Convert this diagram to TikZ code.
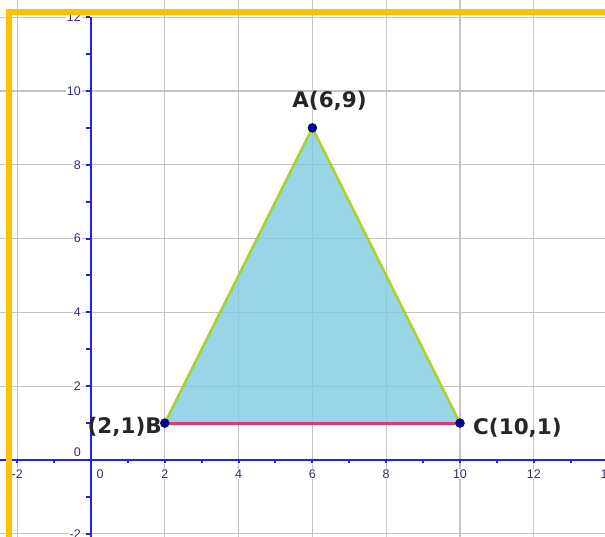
\documentclass[tikz,border=0pt]{standalone}
\usepackage{fontspec}
\setmainfont{Liberation Sans}
\newfontfamily\lblfont{DejaVu Sans}
\definecolor{gridgray}{RGB}{196,196,196}
\definecolor{axisblue}{RGB}{35,35,225}
\definecolor{ticktext}{RGB}{45,45,120}
\definecolor{frameorange}{RGB}{255,192,0}
\definecolor{trifill}{RGB}{125,202,225}
\definecolor{sidegreen}{RGB}{172,208,40}
\definecolor{sidepink}{RGB}{218,60,120}
\definecolor{ptblue}{RGB}{0,0,150}
\tikzset{
  gridline/.style={draw=gridgray, line width=1.2pt},
  axisline/.style={draw=axisblue, line width=2.5pt},
  tickmark/.style={draw=axisblue, line width=2pt},
  ticklbl/.style={font=\fontsize{12.5}{14}\selectfont, text=ticktext, fill=white, inner sep=1pt},
  ptlbl/.style={font=\lblfont\bfseries\fontsize{21.5}{24}\selectfont, inner sep=0pt, text=black!85},
  ptdot/.style={circle, fill=ptblue, draw=ptblue!70!black, line width=0.4pt, inner sep=0pt, minimum size=9pt},
  triside/.style={draw=sidegreen, line width=2.4pt},
  baseside/.style={draw=sidepink, line width=3pt},
  trifillstyle/.style={fill=trifill, fill opacity=0.8},
  frameline/.style={draw=frameorange, line width=6pt}
}
\begin{document}
\begin{tikzpicture}[x=36.9pt, y=36.9pt]
\useasboundingbox (-2.466,-2.087) rectangle (13.930,12.466);
\clip (-2.466,-2.087) rectangle (13.930,12.466);
% grid
\foreach \gx in {-2,2,4,6,8,10,12,14}
  \draw[gridline] (\gx,-2.2) -- (\gx,12.5);
\foreach \gy in {-2,2,4,6,8,10,12}
  \draw[gridline] (-2.5,\gy) -- (14,\gy);
% triangle
\coordinate (A) at (6,9);
\coordinate (B) at (2,1);
\coordinate (C) at (10,1);
\fill[trifillstyle] (A) -- (B) -- (C) -- cycle;
% axes
\draw[axisline] (-2.5,0) -- (14,0);
\draw[axisline] (0,-2.2) -- (0,12.0);
\foreach \tx in {-2,...,14}
  \draw[tickmark] (\tx,0.03) -- ++(0,-4pt);
\foreach \ty in {-2,...,12}
  \draw[tickmark] (-0.03,\ty) -- ++(-4pt,0);
% tick labels
\foreach \tx in {-2,2,4,6,8,10,12,14}
  \node[ticklbl] at (\tx,-0.379) {\tx};
\node[ticklbl] at (0.244,-0.379) {0};
\foreach \ty in {-2,2,4,6,8,10,12}
  \node[ticklbl, anchor=east] at (-0.244,\ty) {\ty};
\node[ticklbl, anchor=east] at (-0.244,0.217) {0};
% sides
\draw[triside] (B) -- (A) -- (C);
\draw[baseside] (B) -- (C);
% points
\node[ptdot] (Ad) at (A) {};
\node[ptdot] (Bd) at (B) {};
\node[ptdot] (Cd) at (C) {};
% point labels
\node[ptlbl, anchor=base west] (Al) at (5.450,9.566) {A(6,9)};
\node[ptlbl, anchor=base east] (Bl) at (1.924,0.705) {(2,1)B};
\node[ptlbl, anchor=base west] (Cl) at (10.352,0.678) {C(10,1)};
% frame
\draw[frameline, line join=miter] (-2.222,-2.3) -- (-2.222,12.141) -- (14.2,12.141);
\end{tikzpicture}
\end{document}
